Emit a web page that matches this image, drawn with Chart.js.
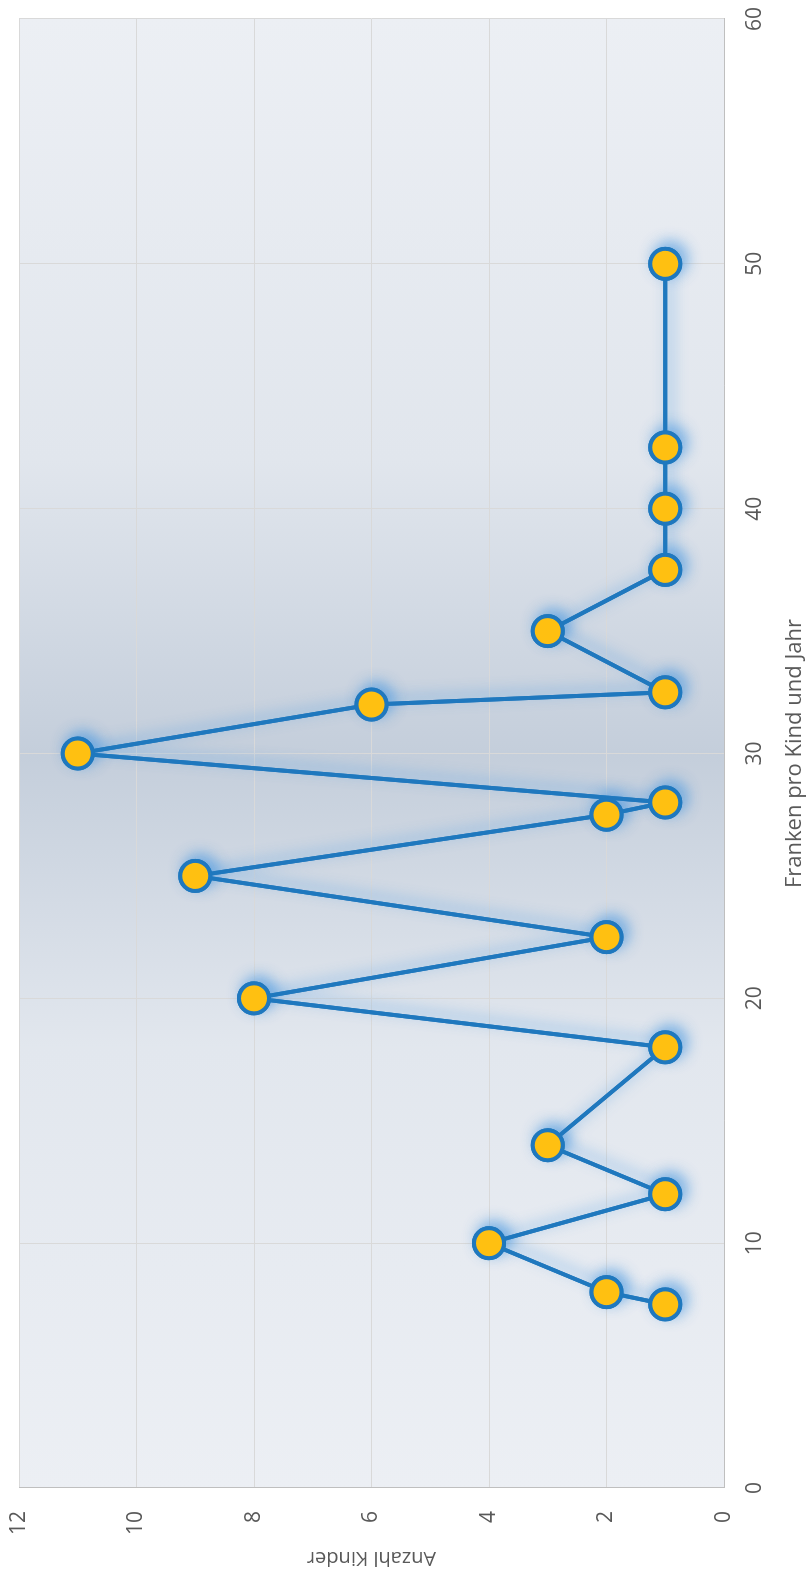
<!DOCTYPE html>
<html>
<head>
<meta charset="utf-8">
<script src="https://cdn.jsdelivr.net/npm/chart.js@4/dist/chart.umd.min.js"></script>
<style>
  html, body { margin: 0; padding: 0; background: #fff; overflow: hidden; }
  body { width: 808px; height: 1574px; position: relative; }
  /* chart is laid out landscape, then turned a quarter turn to stand upright */
  #wrap { position: absolute; left: 0; top: 0; width: 1574px; height: 808px;
          transform-origin: 0 0; transform: translateY(1574px) rotate(-90deg); }
</style>
</head>
<body>
<div id="wrap"><canvas id="kinderChart" width="1574" height="808"></canvas></div>
<script>
// Franken pro Kind und Jahr
var franken = [7.5, 8, 10, 12, 14, 18, 20, 22.5, 25, 27.5, 28, 30, 32, 32.5, 35, 37.5, 40, 42.5, 50];
// Anzahl Kinder
var kinder = [1, 2, 4, 1, 3, 1, 8, 2, 9, 2, 1, 11, 6, 1, 3, 1, 1, 1, 1];

var xTicks = { min: 0, max: 60, step: 10 };
var yTicks = { min: 0, max: 12, step: 2 };

var points = franken.map(function (f, i) { return { x: f, y: kinder[i] }; });

var textColor = '#595959';
var fontFamily = '"Open Sans", "DejaVu Sans", sans-serif';
var lineBlue = '#1F78BE';
var markerFill = '#FFC011';

// light edges, darker band through the middle of the plot
var plotBackground = {
    id: 'plotBackground',
    beforeDraw: function (chart) {
        var a = chart.chartArea, ctx = chart.ctx;
        var g = ctx.createLinearGradient(a.left, 0, a.right, 0);
        g.addColorStop(0, '#ECEFF4');
        g.addColorStop(0.3, '#E2E7EE');
        g.addColorStop(0.5, '#C4CEDB');
        g.addColorStop(0.7, '#E1E6ED');
        g.addColorStop(1, '#ECEFF4');
        ctx.save();
        ctx.fillStyle = g;
        ctx.fillRect(a.left, a.top, a.right - a.left, a.bottom - a.top);
        ctx.restore();
    }
};

// soft blue glow, only on the underlay dataset so the markers stay clean
var glow = {
    id: 'glow',
    beforeDatasetDraw: function (chart, args) {
        if (args.index !== 1) return;
        var ctx = chart.ctx;
        ctx.save();
        ctx.shadowColor = 'rgba(80, 155, 225, 0.7)';
        ctx.shadowBlur = 14;
        ctx.shadowOffsetX = 5;
        ctx.shadowOffsetY = 5;
    },
    afterDatasetDraw: function (chart, args) {
        if (args.index !== 1) return;
        chart.ctx.restore();
    }
};

// keep the plot area fixed, labels may hang over the edges
function noLabelPadding(s) {
    s.paddingTop = 0;
    s.paddingBottom = 0;
    s.paddingLeft = 0;
    s.paddingRight = 0;
}

var seriesStyle = {
    showLine: true,
    borderColor: lineBlue,
    borderWidth: 4,
    pointRadius: 15,
    pointHoverRadius: 15,
    pointBackgroundColor: markerFill,
    pointBorderColor: lineBlue,
    pointBorderWidth: 4,
    clip: false
};

new Chart(document.getElementById('kinderChart').getContext('2d'), {
    type: 'scatter',
    data: {
        datasets: [
            Object.assign({ data: points, order: 1 }, seriesStyle),
            // same series again underneath, carries the glow
            Object.assign({ data: points, order: 2 }, seriesStyle)
        ]
    },
    options: {
        responsive: false,
        animation: false,
        events: [],
        layout: { padding: { top: 17, right: 18, left: 0, bottom: 0 } },
        plugins: { legend: { display: false }, tooltip: { enabled: false } },
        scales: {
            x: {
                type: 'linear',
                min: xTicks.min,
                max: xTicks.max,
                afterFit: function (s) { s.height = 84; noLabelPadding(s); },
                ticks: { stepSize: xTicks.step, color: textColor, padding: 18,
                         font: { family: fontFamily, size: 21 } },
                grid: { color: '#D9D9D9', lineWidth: 1, drawTicks: false },
                border: { color: '#BFBFBF', width: 1 },
                title: { display: true, text: 'Franken pro Kind und Jahr', color: textColor,
                         padding: { top: 0, bottom: 0 },
                         font: { family: fontFamily, size: 22, weight: 'normal' } }
            },
            y: {
                type: 'linear',
                min: yTicks.min,
                max: yTicks.max,
                afterFit: function (s) { s.width = 86; noLabelPadding(s); },
                ticks: { stepSize: yTicks.step, color: textColor, padding: 23,
                         font: { family: fontFamily, size: 21 } },
                grid: { color: '#D9D9D9', lineWidth: 1, drawTicks: false },
                border: { color: '#BFBFBF', width: 1 },
                title: { display: true, text: 'Anzahl Kinder', color: textColor,
                         padding: { top: 4, bottom: 0 },
                         font: { family: fontFamily, size: 20, weight: 'normal' } }
            }
        }
    },
    plugins: [plotBackground, glow]
});
</script>
</body>
</html>
